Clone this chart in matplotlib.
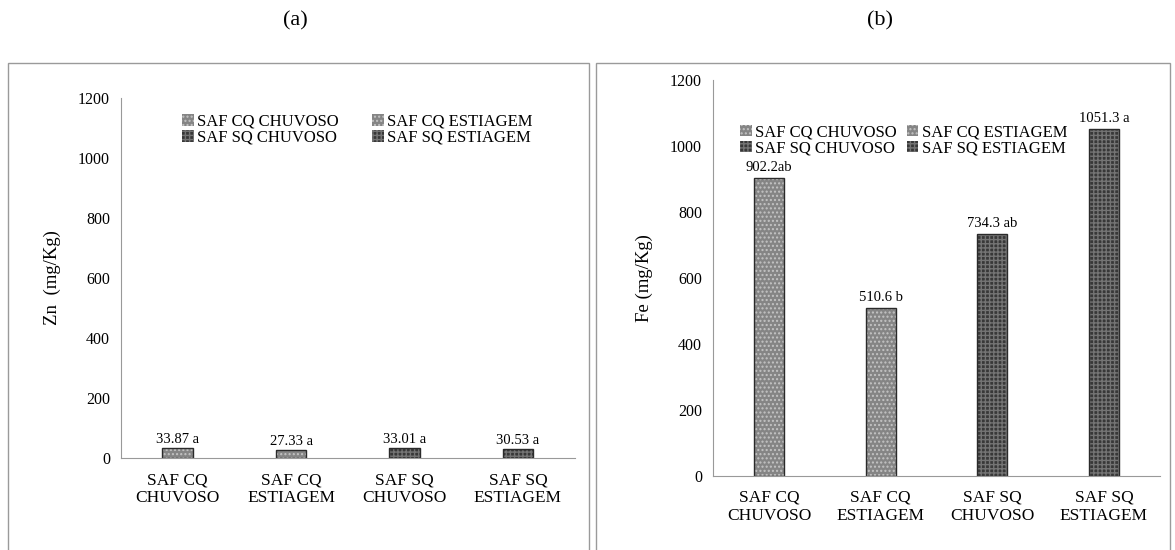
import matplotlib.pyplot as plt
from matplotlib.patches import Rectangle

plt.rcParams['font.family'] = ['Liberation Serif', 'DejaVu Serif']

# data
categories = ['SAF CQ\nCHUVOSO', 'SAF CQ\nESTIAGEM', 'SAF SQ\nCHUVOSO', 'SAF SQ\nESTIAGEM']
series_names = ['SAF CQ CHUVOSO', 'SAF CQ ESTIAGEM', 'SAF SQ CHUVOSO', 'SAF SQ ESTIAGEM']
zn_values = [33.87, 27.33, 33.01, 30.53]
zn_labels = ['33.87 a', '27.33 a', '33.01 a', '30.53 a']
fe_values = [902.2, 510.6, 734.3, 1051.3]
fe_labels = ['902.2ab', '510.6 b', '734.3 ab', '1051.3 a']
y_ticks = [0, 200, 400, 600, 800, 1000, 1200]

face_colors = ['#858585', '#858585', '#383838', '#383838']
hatch_colors = ['#c4c4c4', '#c4c4c4', '#747474', '#747474']
hatches = ['....', '....', '++++', '++++']

fig = plt.figure(figsize=(11.75, 5.5), dpi=100)

# panel frames
for x0, w in [(0.007, 0.494), (0.507, 0.489)]:
    fig.add_artist(Rectangle((x0, -0.01), w, 0.895, transform=fig.transFigure,
                             fill=False, edgecolor='#9a9a9a', lw=1.0))

fig.text(0.251, 0.962, '(a)', ha='center', va='center', fontsize=16)
fig.text(0.749, 0.962, '(b)', ha='center', va='center', fontsize=16)


def draw_panel(ax, values, labels, ylabel, label_pad, legend_anchor, colspace):
    x = range(len(categories))
    handles = []
    for i in x:
        b = ax.bar(i, values[i], width=0.27, color=face_colors[i],
                   edgecolor=hatch_colors[i], hatch=hatches[i], lw=0)
        ax.bar(i, values[i], width=0.27, fill=False, edgecolor='#2a2a2a', lw=1.0)
        handles.append(b)
        ax.text(i, values[i] + label_pad, labels[i], ha='center', va='bottom', fontsize=10.5)
    ax.set_ylim(0, 1200)
    ax.set_xlim(-0.5, 3.5)
    ax.set_yticks(y_ticks)
    ax.set_xticks(list(x))
    ax.set_xticklabels(categories, fontsize=12.5, linespacing=1.15)
    ax.tick_params(axis='both', length=0, pad=10)
    ax.tick_params(axis='y', labelsize=11.5, pad=8)
    for s in ['top', 'right']:
        ax.spines[s].set_visible(False)
    for s in ['left', 'bottom']:
        ax.spines[s].set_color('#999999')
    ax.set_ylabel(ylabel, fontsize=13.5, labelpad=12)
    order = [0, 2, 1, 3]
    ax.legend([handles[k] for k in order], [series_names[k] for k in order],
              ncol=2, frameon=False, loc='upper left', bbox_to_anchor=legend_anchor,
              fontsize=12, handlelength=0.7, handleheight=0.7, handletextpad=0.2,
              columnspacing=colspace, labelspacing=0.0, borderaxespad=0)


ax1 = fig.add_axes([0.103, 0.167, 0.386, 0.655])
draw_panel(ax1, zn_values, zn_labels, 'Zn  (mg/Kg)', 8, (0.12, 0.975), 2.0)

ax2 = fig.add_axes([0.607, 0.1345, 0.38, 0.72])
draw_panel(ax2, fe_values, fe_labels, 'Fe (mg/Kg)', 12, (0.045, 0.905), 0.6)

plt.savefig('out.png', dpi=100)
